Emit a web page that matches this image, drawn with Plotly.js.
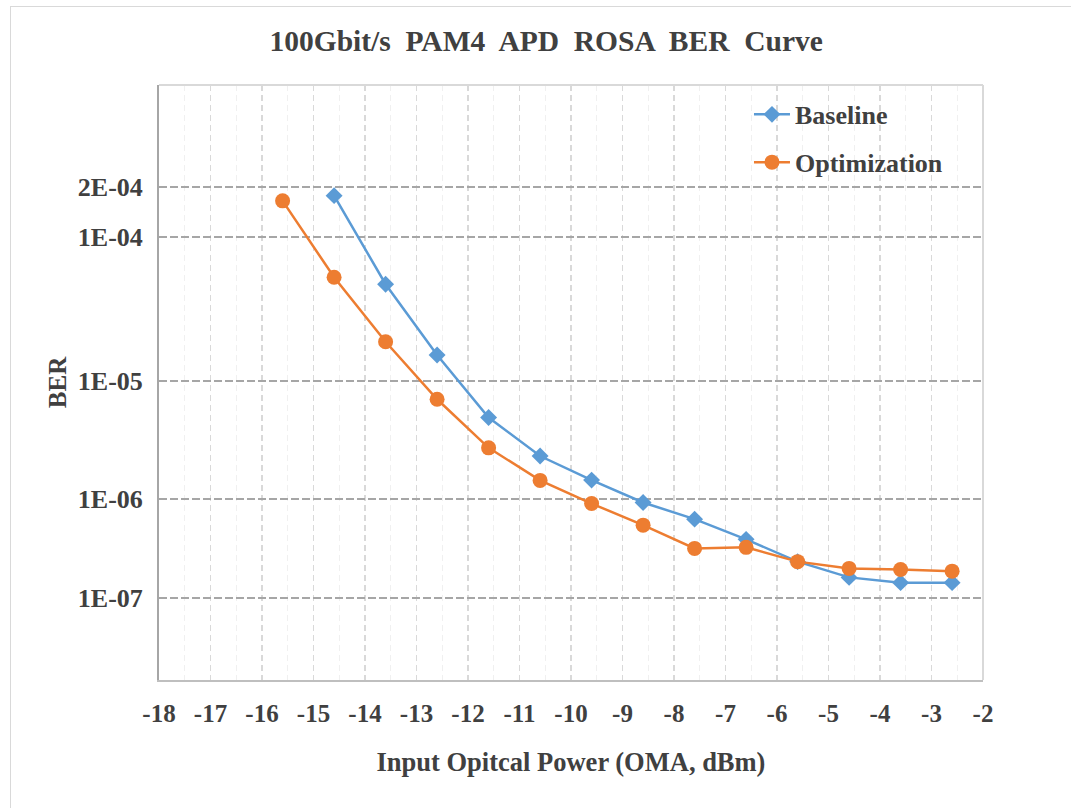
<!DOCTYPE html>
<html>
<head>
<meta charset="utf-8">
<script src="https://cdn.plot.ly/plotly-3.0.1.min.js"></script>
<style>
  html, body { margin:0; padding:0; background:#fff; }
  #wrap { position:relative; width:1071px; height:808px; overflow:hidden; }
  #chart { position:absolute; left:0; top:0; width:1071px; height:808px; }
  #frame { position:absolute; left:10px; top:6px; width:1080px; height:820px;
           border-left:1.5px solid #d9d9d9; border-top:1.5px solid #d9d9d9; pointer-events:none; }
</style>
</head>
<body>
<div id="wrap"><div id="chart"></div><div id="frame"></div></div>
<script>
// ---- data ----
const baselinePower = [-14.6, -13.6, -12.6, -11.6, -10.6, -9.6, -8.6, -7.6, -6.6, -5.6, -4.6, -3.6, -2.6];
const baselineBER   = [1.78e-4, 4.99e-5, 1.58e-5, 5.12e-6, 2.42e-6, 1.48e-6, 9.2e-7, 6.4e-7, 4.06e-7, 2.42e-7, 1.66e-7, 1.46e-7, 1.46e-7];
const optimPower    = [-15.6, -14.6, -13.6, -12.6, -11.6, -10.6, -9.6, -8.6, -7.6, -6.6, -5.6, -4.6, -3.6, -2.6];
const optimBER      = [1.66e-4, 5.55e-5, 1.98e-5, 7.2e-6, 2.85e-6, 1.47e-6, 9.0e-7, 5.6e-7, 3.3e-7, 3.38e-7, 2.42e-7, 2.06e-7, 2.01e-7, 1.93e-7];
const yTickBER      = [2e-4, 1e-4, 1e-5, 1e-6, 1e-7];
const yTickText     = ['2E-04', '1E-04', '1E-05', '1E-06', '1E-07'];
const xTickVals     = [-18, -17, -16, -15, -14, -13, -12, -11, -10, -9, -8, -7, -6, -5, -4, -3, -2];
const xTickText     = ['-18', '-17', '-16', '-15', '-14', '-13', '-12', '-11', '-10', '-9', '-8', '-7', '-6', '-5', '-4', '-3', '-2'];
const xRange        = [-18, -2];
const berRange      = [1.122e-8, 6.95e-4]; // bottom, top of the BER axis

// BER axis: log(-log10(BER)) scale, drawn with a reversed log axis
const q = b => -Math.log10(b);

const FONT = 'Liberation Serif, Times New Roman, serif';
const TXT = '#404040';

const traces = [
  {
    x: baselinePower, y: baselineBER.map(q), name: 'Baseline',
    type: 'scatter', mode: 'lines+markers', legendgroup: 'a',
    line: {color: '#5B9BD5', width: 2.5},
    marker: {symbol: 'diamond', size: 13, color: '#5B9BD5'}
  },
  {
    x: optimPower, y: optimBER.map(q), name: 'Optimization',
    type: 'scatter', mode: 'lines+markers', legendgroup: 'b',
    line: {color: '#ED7D31', width: 2.5},
    marker: {symbol: 'circle', size: 15, color: '#ED7D31'}
  }
];

const layout = {
  width: 1071, height: 808,
  margin: {l: 159, r: 88, t: 85, b: 128},
  paper_bgcolor: '#ffffff', plot_bgcolor: '#ffffff',
  title: {
    text: '100Gbit/s  PAM4  APD  ROSA  BER  Curve',
    font: {family: FONT, size: 29.5, color: TXT, weight: 'bold'},
    x: 0.51, xref: 'container', xanchor: 'center',
    y: 1 - 41/808, yref: 'container', yanchor: 'middle'
  },
  xaxis: {
    range: xRange, autorange: false,
    tickmode: 'array', tickvals: xTickVals, ticktext: xTickText,
    showgrid: true, gridcolor: '#d9d9d9', griddash: '6px,4px', gridwidth: 1.5,
    minor: {dtick: 0.5, tick0: -18, showgrid: true, gridcolor: '#f0f0f0', gridwidth: 1},
    showline: true, linecolor: '#bfbfbf', linewidth: 2,
    zeroline: false, ticks: '', ticklabelstandoff: 10,
    tickfont: {family: FONT, size: 25, color: TXT, weight: 'bold'},
    title: {text: 'Input Opitcal Power (OMA, dBm)', standoff: 26,
            font: {family: FONT, size: 26.5, color: TXT, weight: 'bold'}}
  },
  yaxis: {
    type: 'log', autorange: false,
    range: [Math.log10(q(berRange[0])), Math.log10(q(berRange[1]))],
    tickmode: 'array', tickvals: yTickBER.map(q), ticktext: yTickText,
    showgrid: true, gridcolor: '#a6a6a6', griddash: '8px,3px', gridwidth: 2,
    showline: true, linecolor: '#a6a6a6', linewidth: 2,
    zeroline: false, ticks: '', ticklabelstandoff: 9,
    tickfont: {family: FONT, size: 26, color: TXT, weight: 'bold'},
    title: {text: 'BER', standoff: 4,
            font: {family: FONT, size: 25, color: TXT, weight: 'bold'}}
  },
  shapes: [
    {type: 'line', xref: 'paper', yref: 'paper', x0: 0, x1: 1, y0: 1, y1: 1,
     line: {color: '#d9d9d9', width: 2}},
    {type: 'line', xref: 'paper', yref: 'paper', x0: 1, x1: 1, y0: 0, y1: 1,
     line: {color: '#d9d9d9', width: 2}}
  ],
  showlegend: true,
  legend: {
    x: 0.716, xanchor: 'left', y: 0.99, yanchor: 'top',
    bgcolor: 'rgba(255,255,255,0)', borderwidth: 0,
    traceorder: 'grouped', tracegroupgap: 11, itemwidth: 36,
    font: {family: FONT, size: 26, color: TXT, weight: 'bold'}
  }
};

Plotly.newPlot('chart', traces, layout, {displayModeBar: false, staticPlot: true});
</script>
</body>
</html>
